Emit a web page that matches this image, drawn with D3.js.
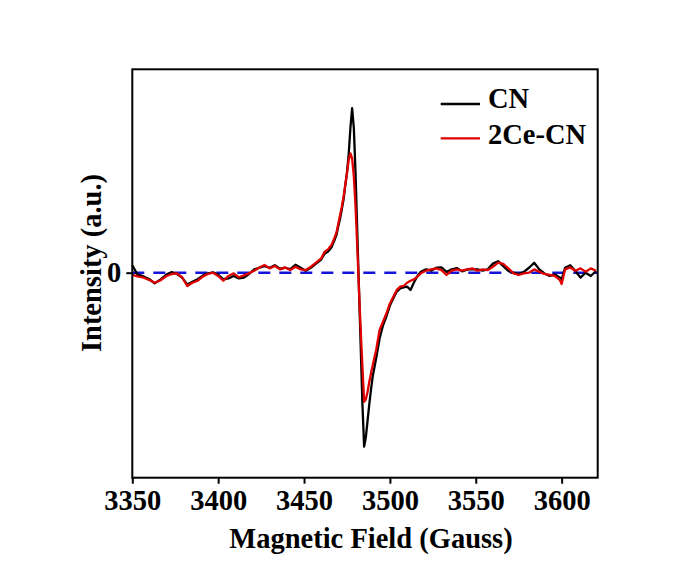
<!DOCTYPE html>
<html>
<head>
<meta charset="utf-8">
<script src="https://cdn.jsdelivr.net/npm/d3@7"></script>
<style>
  body { margin: 0; background: #fff; }
  text { font-family: "Liberation Serif", "Times New Roman", serif; font-weight: bold; }
</style>
</head>
<body>
<div id="chart"></div>
<script>
// magnetic field (G)
let field = [3350,3353,3356,3360,3363,3366,3370,3373,3376,3379,3382,3385,3388,3391,3394,3397,3400,3403,3406,3409,
  3412,3415,3418,3421,3424,3427,3430,3433,3436,3439,3442,3445,3448,3451,3454,3457,3460,3462,3464,3466,
  3468,3469,3470,3471,3472,3473,3474,3475,3476,3477,3478,3479,3480,3481,3482,3483,3484,3485,3486,3487,
  3488,3489,3490,3492,3494,3496,3498,3500,3502,3504,3506,3508,3510,3512,3514,3516,3518,3521,3524,3527,
  3530,3533,3536,3539,3542,3545,3548,3551,3554,3557,3560,3563,3566,3569,3572,3575,3578,3581,3584,3587,
  3590,3593,3596,3599,3600,3602,3605,3608,3611,3614,3617,3620];

// CN intensity (a.u.)
let cn = [0.045,-0.012,-0.020,-0.040,-0.065,-0.045,-0.010,0.004,-0.008,-0.030,-0.072,-0.055,-0.040,-0.018,-0.004,0.002,-0.012,-0.040,-0.035,-0.020,
  -0.035,-0.030,-0.008,0.020,0.030,0.040,0.030,0.045,0.024,0.030,0.022,0.048,0.030,0.012,0.030,0.055,0.080,0.115,0.128,0.155,
  0.205,0.235,0.285,0.330,0.385,0.445,0.530,0.610,0.720,0.880,1.000,0.880,0.600,0.250,-0.100,-0.450,-0.800,-1.058,-1.000,-0.900,
  -0.800,-0.710,-0.630,-0.520,-0.400,-0.320,-0.265,-0.200,-0.155,-0.115,-0.095,-0.090,-0.085,-0.105,-0.060,-0.020,0.005,0.020,0.012,0.030,
  0.032,0.005,0.020,0.028,0.008,0.018,0.022,0.020,0.012,0.020,0.055,0.070,0.040,0.010,0.000,-0.008,0.005,0.030,0.060,0.020,
  -0.005,-0.020,-0.010,-0.030,-0.040,0.030,0.045,0.010,-0.030,0.000,-0.020,0.010];

// 2Ce-CN intensity (a.u.)
let ce = [-0.014,-0.022,-0.028,-0.045,-0.061,-0.049,-0.020,-0.008,-0.004,-0.028,-0.081,-0.061,-0.049,-0.024,-0.008,0.000,-0.020,-0.049,-0.020,-0.004,
  -0.028,-0.016,-0.004,0.012,0.032,0.047,0.026,0.041,0.020,0.032,0.016,0.036,0.020,0.016,0.036,0.061,0.087,0.128,0.142,0.168,
  0.219,0.249,0.300,0.351,0.401,0.462,0.533,0.604,0.685,0.726,0.695,0.584,0.401,0.158,-0.105,-0.349,-0.572,-0.785,-0.770,-0.724,
  -0.663,-0.612,-0.562,-0.470,-0.349,-0.298,-0.247,-0.187,-0.146,-0.105,-0.085,-0.081,-0.061,-0.049,-0.041,-0.024,-0.004,0.012,0.020,0.026,
  0.016,-0.014,0.012,0.020,0.012,0.020,0.026,0.012,0.020,0.016,0.036,0.061,0.053,0.026,-0.004,-0.014,-0.004,0.000,0.020,0.006,
  -0.008,-0.014,-0.020,-0.045,-0.069,0.020,0.032,0.012,0.026,0.006,0.026,0.012];

let xTicks = [3350,3400,3450,3500,3550,3600];
let yTicks = [0];
let seriesNames = ["CN", "2Ce-CN"];
let seriesColors = ["#000000", "#e00000"];

let width = 680, height = 565;
let margin = {left: 132.3, top: 69.3, right: 680 - 597.7, bottom: 565 - 477.7};
let w = width - margin.left - margin.right;
let h = height - margin.top - margin.bottom;
let fontSize = "28.5px";

let svg = d3.select("#chart")
    .append("svg")
    .attr("width", width)
    .attr("height", height);

let g = svg.append("g")
    .attr("transform", "translate(" + margin.left + "," + margin.top + ")");

let x = d3.scaleLinear().domain([3350, 3621]).range([0, w]);
let y = d3.scaleLinear().domain([-1.247, 1.237]).range([h, 0]);

// zero baseline
g.append("line")
    .attr("x1", 0).attr("x2", w)
    .attr("y1", y(0)).attr("y2", y(0))
    .attr("stroke", "#1414d8")
    .attr("stroke-width", 2.5)
    .attr("stroke-dasharray", "12,9");

let line = d3.line()
    .x(function (d) { return x(d[0]); })
    .y(function (d) { return y(d[1]); });

[cn, ce].forEach(function (vals, i) {
    g.append("path")
        .datum(field.map(function (f, j) { return [f, vals[j]]; }))
        .attr("fill", "none")
        .attr("stroke", seriesColors[i])
        .attr("stroke-width", 2.3)
        .attr("stroke-linejoin", "round")
        .attr("d", line);
});

// axes
let xAxis = g.append("g")
    .attr("transform", "translate(0," + h + ")")
    .call(d3.axisBottom(x).tickValues(xTicks).tickFormat(d3.format("d"))
        .tickSize(6).tickSizeOuter(0).tickPadding(6));
let yAxis = g.append("g")
    .call(d3.axisLeft(y).tickValues(yTicks).tickFormat(d3.format("d"))
        .tickSize(6).tickSizeOuter(0).tickPadding(5));

[xAxis, yAxis].forEach(function (a) {
    a.select(".domain").remove();
    a.selectAll(".tick line").attr("stroke", "#000").attr("stroke-width", 2);
    a.selectAll(".tick text")
        .attr("fill", "#000")
        .style("font-family", '"Liberation Serif", "Times New Roman", serif')
        .style("font-weight", "bold")
        .style("font-size", fontSize);
});

// frame
g.append("rect")
    .attr("width", w).attr("height", h)
    .attr("fill", "none")
    .attr("stroke", "#000")
    .attr("stroke-width", 2);

// axis titles
svg.append("text")
    .attr("x", 371)
    .attr("y", 548)
    .attr("text-anchor", "middle")
    .style("font-size", fontSize)
    .text("Magnetic Field (Gauss)");

svg.append("text")
    .attr("transform", "translate(101,263) rotate(-90)")
    .attr("text-anchor", "middle")
    .style("font-size", fontSize)
    .text("Intensity (a.u.)");

// legend
let legend = svg.append("g");
seriesNames.forEach(function (name, i) {
    let ly = [104, 138.3][i];
    legend.append("line")
        .attr("x1", 440.7).attr("x2", 480)
        .attr("y1", ly).attr("y2", ly)
        .attr("stroke", seriesColors[i])
        .attr("stroke-width", 2.3);
    legend.append("text")
        .attr("x", 488)
        .attr("y", [108.3, 144.3][i])
        .style("font-size", fontSize)
        .text(name);
});
</script>
</body>
</html>
